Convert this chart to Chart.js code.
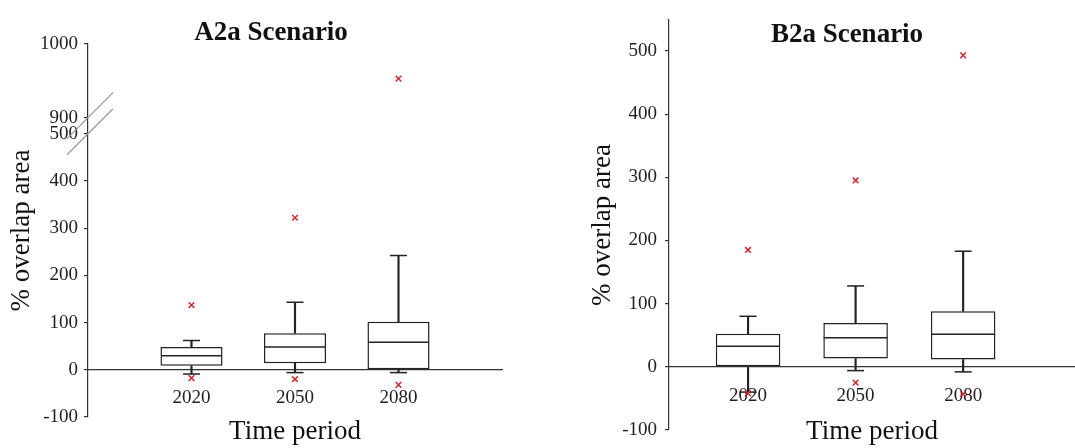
<!DOCTYPE html>
<html>
<head>
<meta charset="utf-8">
<script src="https://cdn.jsdelivr.net/npm/chart.js@4.4.0/dist/chart.umd.min.js"></script>
<style>
body { margin: 0; background: #fff; width: 1075px; height: 448px; position: relative; overflow: hidden; }
canvas { position: absolute; top: 0; }
#a2aChart { left: 0; }
#b2aChart { left: 540px; }
</style>
</head>
<body>
<canvas id="a2aChart" width="540" height="448"></canvas>
<canvas id="b2aChart" width="535" height="448"></canvas>
<script>
// categories
var periods = ['2020', '2050', '2080'];

// A2a scenario (% overlap area)
var a2aLow = [-9, -6, -6];
var a2aQ1 = [8.5, 14, 1];
var a2aMedian = [29.5, 48, 58.5];
var a2aQ3 = [48.5, 77.5, 102];
var a2aHigh = [62, 143, 242];
var a2aOutHigh = [137, 322, 953];
var a2aOutLow = [-17.5, -20, -32];
var a2aTicks = [-100, 0, 100, 200, 300, 400, 500, 900, 1000];

// B2a scenario (% overlap area)
var b2aLow = [-40, -6, -8];
var b2aQ1 = [0, 13, 11.5];
var b2aMedian = [32.5, 46, 51.5];
var b2aQ3 = [52.5, 69.5, 88];
var b2aHigh = [80, 128, 183];
var b2aOutHigh = [185, 295, 493];
var b2aOutLow = [-42, -25, -43];
var b2aTicks = [-100, 0, 100, 200, 300, 400, 500];

var serif = 'Liberation Serif';
var ink = '#222';

// A2a axis is broken between 500 and 900
function a2aAxis(v) {
    return v <= 500 ? v : 534 + (v - 900) * 1.56;
}
function plain(v) { return v; }

function boxDatasets(low, q1, med, q3, high, outHigh, outLow, toAxis, halfBox) {
    var pts = function(arr) {
        return arr.map(function(v, i) { return {x: i + 1, y: toAxis(v)}; });
    };
    var range = function(a, b) {
        return a.map(function(v, i) { return {x: i + 1, y: [toAxis(v), toAxis(b[i])]}; });
    };
    return [
        {type: 'scatter', data: pts(outHigh).concat(pts(outLow)), pointStyle: 'crossRot',
         pointRadius: 4, borderColor: '#d8252c', backgroundColor: '#d8252c', borderWidth: 1.5, order: 0},
        {type: 'scatter', data: pts(med), pointStyle: 'line', pointRadius: halfBox,
         borderColor: ink, borderWidth: 1.5, order: 1},
        {type: 'scatter', data: pts(low).concat(pts(high)), pointStyle: 'line', pointRadius: 8.5,
         borderColor: ink, borderWidth: 1.5, order: 2},
        {type: 'bar', data: range(q1, q3), backgroundColor: '#fff', borderColor: ink, borderWidth: 1.5,
         borderSkipped: false, barPercentage: 0.6, categoryPercentage: 1, grouped: false, order: 3},
        {type: 'bar', data: range(low, q1).concat(range(q3, high)), backgroundColor: ink,
         barThickness: 1.5, grouped: false, order: 4}
    ];
}

// slashes marking the break on the A2a y axis
var axisBreak = {
    id: 'axisBreak',
    afterDraw: function(chart) {
        var ctx = chart.ctx;
        var x0 = chart.chartArea.left;
        var y = chart.scales.y;
        ctx.save();
        ctx.strokeStyle = '#999';
        ctx.lineWidth = 1.2;
        [a2aAxis(900), a2aAxis(500)].forEach(function(v) {
            var yc = y.getPixelForValue(v);
            ctx.beginPath();
            ctx.moveTo(x0 - 21, yc + 21);
            ctx.lineTo(x0 + 25, yc - 25);
            ctx.stroke();
        });
        ctx.restore();
    }
};

function makeChart(id, opts) {
    return new Chart(document.getElementById(id), {
        type: 'bar',
        data: {datasets: opts.datasets},
        options: {
            responsive: false,
            animation: false,
            layout: {padding: opts.padding, autoPadding: false},
            plugins: {
                legend: {display: false},
                tooltip: {enabled: false},
                title: {
                    display: true, text: opts.title, color: '#111',
                    font: {family: serif, size: 27, weight: 'bold'},
                    padding: opts.titlePadding
                }
            },
            scales: {
                x: {
                    type: 'linear', min: opts.xMin, max: opts.xMax, offset: false,
                    position: {y: 0},
                    grid: {display: false, drawTicks: false},
                    border: {color: '#333', width: 1.2},
                    afterBuildTicks: function(s) {
                        s.ticks = periods.map(function(p, i) { return {value: i + 1}; });
                    },
                    afterFit: function(s) { s.height = opts.xHeight; },
                    ticks: {
                        padding: opts.xTickPad, color: ink, font: {family: serif, size: 19},
                        callback: function(v, i) { return periods[i]; }
                    },
                    title: {
                        display: true, text: 'Time period', color: '#111',
                        font: {family: serif, size: 27}, padding: {top: 0, bottom: opts.xTitlePad}
                    }
                },
                y: {
                    min: -100, max: opts.yMax,
                    afterBuildTicks: function(s) {
                        s.ticks = opts.ticks.map(function(v) { return {value: opts.toAxis(v)}; });
                    },
                    afterFit: function(s) { s.width = opts.yWidth; },
                    grid: {drawOnChartArea: false, tickLength: 4, color: '#333', lineWidth: 1.2},
                    border: {color: '#333', width: 1.2},
                    ticks: {
                        autoSkip: false, padding: opts.yTickPad, color: ink,
                        font: {family: serif, size: 19, lineHeight: 1},
                        callback: function(v, i) { return String(opts.ticks[i]); }
                    },
                    title: {
                        display: true, text: '% overlap area', color: '#111',
                        font: {family: serif, size: 27}, padding: {top: opts.yTitlePad, bottom: 0}
                    }
                }
            }
        },
        plugins: opts.plugins || []
    });
}

makeChart('a2aChart', {
    title: 'A2a Scenario',
    datasets: boxDatasets(a2aLow, a2aQ1, a2aMedian, a2aQ3, a2aHigh, a2aOutHigh, a2aOutLow, a2aAxis, 30.5),
    padding: {left: 40, right: 38, top: 0, bottom: 31},
    titlePadding: {top: 17, bottom: -5.4},
    xMin: 0, xMax: 4, xHeight: 31, xTickPad: 17, xTitlePad: -47.4,
    yMax: 690, yWidth: 48, yTickPad: 6, yTitlePad: -34.2,
    ticks: a2aTicks, toAxis: a2aAxis,
    plugins: [axisBreak]
});

makeChart('b2aChart', {
    title: 'B2a Scenario',
    datasets: boxDatasets(b2aLow, b2aQ1, b2aMedian, b2aQ3, b2aHigh, b2aOutHigh, b2aOutLow, plain, 32),
    padding: {left: 79, right: 0, top: 0, bottom: 18},
    titlePadding: {top: 19, bottom: -31.4},
    xMin: 0.265, xMax: 4.04, xHeight: 18, xTickPad: 18, xTitlePad: -63.4,
    yMax: 549, yWidth: 50, yTickPad: 8, yTitlePad: -32.2,
    ticks: b2aTicks, toAxis: plain
});
</script>
</body>
</html>
